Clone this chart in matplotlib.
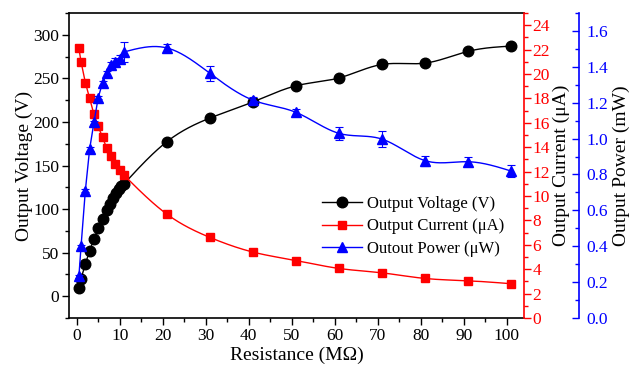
import numpy as np
import matplotlib
matplotlib.use('Agg')
import matplotlib.pyplot as plt
from matplotlib.ticker import MultipleLocator

# ---------------- data ----------------
res_v = [0.5, 1, 2, 3, 4, 5, 6, 7, 7.7, 8.4, 9.1, 9.8, 10.4, 11,
         21, 31, 41, 51, 61, 71, 81, 91, 101]
voltage = [10, 20, 37, 52, 66, 78, 89, 98.5, 106, 112.5, 118, 123.5, 126.5, 129,
           177.5, 204.5, 223, 241.5, 250.5, 266, 267.5, 281, 287]

res = [0.5, 1, 2, 3, 4, 5, 6, 7, 8, 9, 10, 11, 21, 31, 41, 51, 61, 71, 81, 91, 101]
current = [22.1, 21.0, 19.3, 18.0, 16.7, 15.7, 14.8, 13.9, 13.3, 12.6, 12.1, 11.7,
           8.5, 6.6, 5.4, 4.71, 4.06, 3.7, 3.24, 3.05, 2.81]
current_err = [0.15, 0.3, 0.3, 0.3, 0.3, 0.15, 0.1, 0.1, 0.1, 0.1, 0.1, 0.1,
               0.1, 0.1, 0.1, 0.1, 0.1, 0.1, 0.1, 0.1, 0.1]
power = [0.232, 0.399, 0.71, 0.942, 1.09, 1.229, 1.311, 1.363, 1.409, 1.428, 1.446, 1.483,
         1.505, 1.363, 1.214, 1.146, 1.029, 0.997, 0.877, 0.871, 0.819]
power_err = [0.01, 0.01, 0.01, 0.01, 0.01, 0.01, 0.01, 0.015, 0.02, 0.02, 0.02, 0.058,
             0.025, 0.042, 0.02, 0.02, 0.037, 0.046, 0.028, 0.025, 0.032]

labels = ["Output Voltage (V)", "Output Current (\u03bcA)", "Outout Power (\u03bcW)"]


def natural_spline(x, y, n=300):
    x = np.asarray(x, float)
    y = np.asarray(y, float)
    k = len(x)
    h = np.diff(x)
    A = np.zeros((k, k))
    b = np.zeros(k)
    A[0, 0] = A[-1, -1] = 1
    for i in range(1, k - 1):
        A[i, i - 1] = h[i - 1]
        A[i, i] = 2 * (h[i - 1] + h[i])
        A[i, i + 1] = h[i]
        b[i] = 6 * ((y[i + 1] - y[i]) / h[i] - (y[i] - y[i - 1]) / h[i - 1])
    M = np.linalg.solve(A, b)
    xs = np.linspace(x[0], x[-1], n)
    idx = np.clip(np.searchsorted(x, xs) - 1, 0, k - 2)
    x0, x1 = x[idx], x[idx + 1]
    hh = x1 - x0
    ys = (M[idx] * (x1 - xs) ** 3 / (6 * hh) + M[idx + 1] * (xs - x0) ** 3 / (6 * hh)
          + (y[idx] / hh - M[idx] * hh / 6) * (x1 - xs)
          + (y[idx + 1] / hh - M[idx + 1] * hh / 6) * (xs - x0))
    return xs, ys


def curve(x, y, split=11):
    x = np.asarray(x, float)
    y = np.asarray(y, float)
    lo = x <= split
    hi = x >= split
    xs, ys = natural_spline(x[hi], y[hi])
    return np.concatenate([x[lo], xs]), np.concatenate([y[lo], ys])


plt.rcParams['font.family'] = ['Liberation Serif', 'DejaVu Serif']
plt.rcParams['mathtext.fontset'] = 'stix'

fig = plt.figure(figsize=(6.29, 3.65), dpi=100)
ax = fig.add_axes([69 / 629, 1 - 318 / 365, 455 / 629, 305 / 365])
ax2 = ax.twinx()
ax3 = ax.twinx()

# voltage
cx, cy = curve(res_v, voltage)
ax.plot(cx, cy, color='black', lw=1.0, zorder=2)
ax.plot(res_v, voltage, 'o', color='black', ms=7.6, zorder=3)
h1, = ax.plot([], [], '-o', color='black', lw=1.0, ms=7.6)

# current
cx, cy = curve(res, current)
ax2.plot(cx, cy, color='red', lw=1.0, zorder=2)
ax2.errorbar(res, current, yerr=current_err, fmt='s', color='red', ms=5.3,
             elinewidth=0.8, capsize=0, zorder=3)
h2, = ax2.plot([], [], '-s', color='red', lw=1.0, ms=5.3)

# power
cx, cy = curve(res, power)
ax3.plot(cx, cy, color='blue', lw=1.0, zorder=2)
ax3.errorbar(res, power, yerr=power_err, fmt='^', color='blue', ms=7.2,
             elinewidth=0.8, capsize=3, capthick=0.8, zorder=3)
h3, = ax3.plot([], [], '-^', color='blue', lw=1.0, ms=7.2)

# axes limits / ticks
ax.set_xlim(-1.8, 104)
ax.set_ylim(-25, 325)
ax2.set_ylim(0, 25)
ax3.set_ylim(0, 1.7)

ax.xaxis.set_major_locator(MultipleLocator(10))
ax.xaxis.set_minor_locator(MultipleLocator(5))
ax.yaxis.set_major_locator(MultipleLocator(50))
ax.yaxis.set_minor_locator(MultipleLocator(25))
ax2.yaxis.set_major_locator(MultipleLocator(2))
ax2.yaxis.set_minor_locator(MultipleLocator(1))
ax3.yaxis.set_major_locator(MultipleLocator(0.2))
ax3.yaxis.set_minor_locator(MultipleLocator(0.1))
ax3.yaxis.set_major_formatter(plt.FuncFormatter(lambda v, p: f"{v:.1f}"))

fs_tick = 12.5
ax.tick_params(axis='both', which='major', direction='out', length=5, width=1,
               labelsize=fs_tick, pad=2)
ax.tick_params(axis='both', which='minor', direction='out', length=3, width=1)
ax.tick_params(axis='y', right=False)
ax.tick_params(axis='x', top=False)

ax2.tick_params(axis='y', which='major', direction='out', length=5, width=1,
                colors='red', labelsize=fs_tick, pad=1)
ax2.tick_params(axis='y', which='minor', direction='out', length=3, width=1, colors='red')

ax3.spines['right'].set_position(('axes', 1.121))
ax3.tick_params(axis='y', which='major', direction='in', length=5, width=1,
                colors='blue', labelsize=fs_tick, pad=5)
ax3.tick_params(axis='y', which='minor', direction='in', length=3, width=1, colors='blue')

for s in ['left', 'bottom', 'top']:
    ax.spines[s].set_linewidth(1.2)
ax.spines['right'].set_visible(False)
for s in ['left', 'bottom', 'top']:
    ax2.spines[s].set_visible(False)
    ax3.spines[s].set_visible(False)
ax2.spines['right'].set_color('red')
ax2.spines['right'].set_linewidth(1.2)
ax3.spines['right'].set_color('blue')
ax3.spines['right'].set_linewidth(1.2)

fs_lab = 14
ax.set_xlabel("Resistance (M\u03a9)", fontsize=fs_lab)
ax.set_ylabel("Output Voltage (V)", fontsize=fs_lab)
ax2.set_ylabel("Output Current (\u03bcA)", fontsize=fs_lab, color='black')
ax3.set_ylabel("Output Power (mW)", fontsize=fs_lab, color='black')
ax.xaxis.set_label_coords(0.5, -0.095)
ax.yaxis.set_label_coords(-0.08, 0.5)
ax2.yaxis.set_label_coords(1.062, 0.5)
ax3.yaxis.set_label_coords(1.196, 0.5)

ax3.legend([h1, h2, h3], labels, loc='upper left', bbox_to_anchor=(0.556, 0.40),
           frameon=False, fontsize=12, borderpad=0, borderaxespad=0,
           handlelength=2.4, handletextpad=0.3, labelspacing=0.38)

fig.savefig('out.png', dpi=100)
